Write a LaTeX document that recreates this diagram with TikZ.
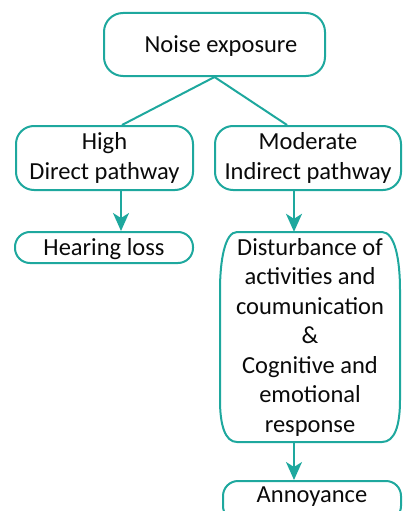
\documentclass[tikz,border=0pt]{standalone}
\usepackage{fontspec}
\setmainfont{Carlito}
\usetikzlibrary{arrows.meta,calc}
\definecolor{flowteal}{RGB}{30,168,158}
\definecolor{flowtext}{RGB}{10,10,10}
\begin{document}
\begin{tikzpicture}[x=1pt,y=-1pt,
  every node/.style={font=\fontsize{24.5}{29.5}\selectfont, text=flowtext, inner sep=0pt},
  box/.style={draw=flowteal, line width=2pt, align=center},
  link/.style={draw=flowteal, line width=2pt},
  flowarrow/.style={link, -{Stealth[length=18pt,width=16pt,inset=5pt]}}]
\useasboundingbox (0,0) rectangle (402,511);
\clip (0,0) rectangle (402,511);

% top node and the two pathways
\node[box, rounded corners=19pt, minimum width=221, minimum height=63,
      text height=15.5pt, text depth=0pt] (noise) at (214.5,44.5) {\hspace*{13pt}Noise exposure};
\node[box, rounded corners=18pt, minimum width=177, minimum height=64] (high) at (104.5,158) {High\\Direct pathway};
\node[box, rounded corners=18pt, minimum width=186, minimum height=64] (moderate) at (308,158) {Moderate\\Indirect pathway};

% outcomes
\node[box, rounded corners=15pt, minimum width=178, minimum height=31,
      text height=15.5pt, text depth=0pt] (hearing) at (104,247.5) {Hearing loss};
\node[align=center, minimum width=180, minimum height=210] (dist) at (310,337)
  {Disturbance of\\activities and\\coumunication\\\&\\Cognitive and\\emotional\\response};
\node[box, rounded corners=15pt, minimum width=178, minimum height=40,
      text height=15.5pt, text depth=13pt] (annoy) at (312,501) {Annoyance};

% outline of the tall box with elongated corners
\begin{scope}[shift={(dist.center)}]
\draw[link] (-73,-105) -- (72,-105)
  .. controls (85,-105) and (90,-77) .. (90,-47) -- (90,63)
  .. controls (90,88) and (85,105) .. (72,105) -- (-73,105)
  .. controls (-85,105) and (-90,88) .. (-90,63) -- (-90,-47)
  .. controls (-90,-77) and (-85,-105) .. (-73,-105) -- cycle;
\end{scope}

% connectors
\draw[link] (noise.south) -- ([xshift=17.5pt]high.north);
\draw[link] (noise.south) -- ([xshift=-21pt]moderate.north);
\draw[flowarrow] ([xshift=16.5pt]high.south) -- ([xshift=17pt]hearing.north);
\draw[flowarrow] ([xshift=-14pt]moderate.south) -- ([xshift=-16pt]dist.north);
\draw[flowarrow] ([xshift=-16pt]dist.south) -- ([xshift=-18pt]annoy.north);
\end{tikzpicture}
\end{document}
